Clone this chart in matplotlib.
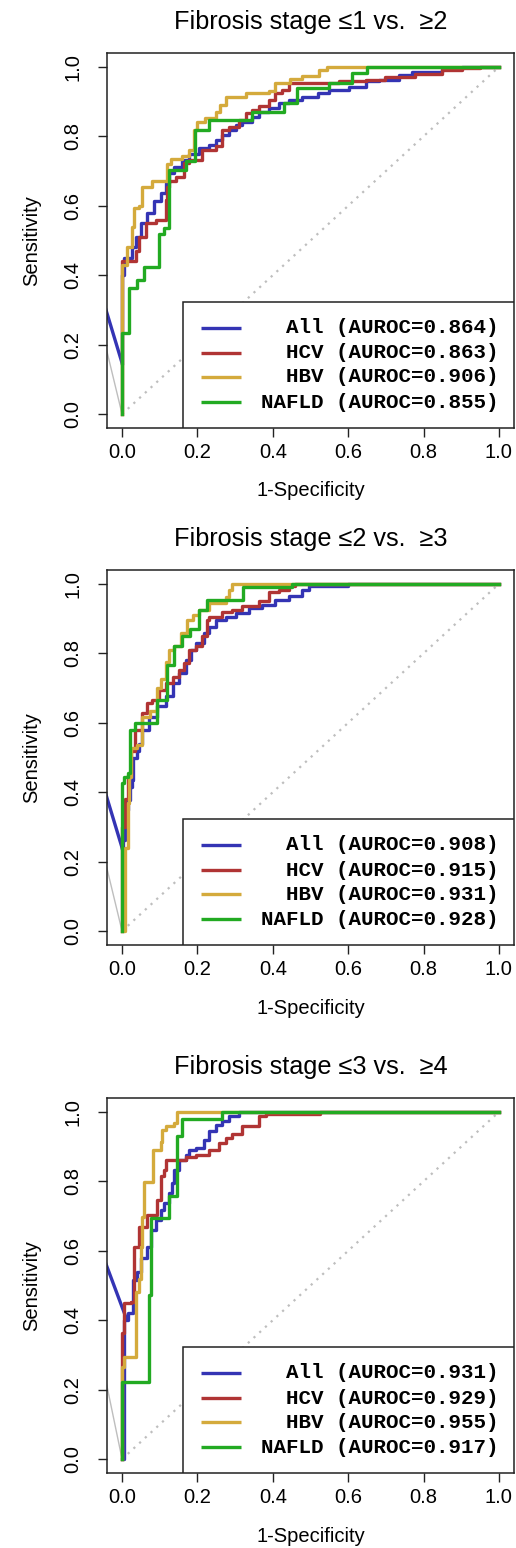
import numpy as np
import matplotlib
matplotlib.use("Agg")
import matplotlib.pyplot as plt
from matplotlib.patches import Rectangle

plt.rcParams["font.family"] = ["Liberation Sans", "DejaVu Sans"]

GROUPS = ["All", "HCV", "HBV", "NAFLD"]
COLORS = ["#3434b4", "#b03434", "#d4aa3c", "#22aa22"]
TITLES = [
    "Fibrosis stage \u22641 vs.  \u22652",
    "Fibrosis stage \u22642 vs.  \u22653",
    "Fibrosis stage \u22643 vs.  \u22654",
]
AUROC = [
    [0.864, 0.863, 0.906, 0.855],
    [0.908, 0.915, 0.931, 0.928],
    [0.931, 0.929, 0.955, 0.917],
]

# ROC curves as (1-specificity where a level starts, sensitivity level)
# ---- panel 1: stage <=1 vs >=2
P1_ALL_X = [0, 0, 0.005, 0.027, 0.036, 0.049, 0.067, 0.085, 0.103, 0.116, 0.125, 0.138, 0.16, 0.178,
            0.204, 0.231, 0.248, 0.266, 0.284, 0.301, 0.319, 0.346, 0.363, 0.39, 0.416, 0.443, 0.478,
            0.52, 0.549, 0.602, 0.646, 0.681, 0.734, 0.769, 0.848, 0.902, 1.0]
P1_ALL_Y = [0.147, 0.40, 0.45, 0.48, 0.51, 0.55, 0.579, 0.613, 0.636, 0.665, 0.694, 0.713, 0.732, 0.75,
            0.765, 0.775, 0.789, 0.804, 0.818, 0.833, 0.842, 0.857, 0.871, 0.881, 0.895, 0.905, 0.914,
            0.924, 0.933, 0.943, 0.958, 0.962, 0.977, 0.986, 0.993, 1.0, 1.0]
P1_HCV_X = [0, 0, 0.036, 0.045, 0.063, 0.089, 0.116, 0.12, 0.125, 0.142, 0.164, 0.178, 0.213, 0.248,
            0.266, 0.284, 0.31, 0.328, 0.346, 0.363, 0.39, 0.407, 0.425, 0.443, 0.575, 0.646, 0.699,
            0.778, 0.848, 0.902, 0.95, 1.0]
P1_HCV_Y = [0, 0.44, 0.47, 0.51, 0.55, 0.56, 0.617, 0.655, 0.67, 0.684, 0.722, 0.732, 0.761, 0.771,
            0.818, 0.828, 0.848, 0.866, 0.876, 0.886, 0.905, 0.924, 0.933, 0.953, 0.958, 0.962, 0.972,
            0.98, 0.99, 0.997, 1.0, 1.0]
P1_HBV_X = [0, 0, 0.014, 0.027, 0.032, 0.045, 0.054, 0.08, 0.118, 0.13, 0.16, 0.178, 0.19, 0.20, 0.22,
            0.25, 0.26, 0.275, 0.33, 0.39, 0.405, 0.445, 0.478, 0.522, 0.545, 1.0]
P1_HBV_Y = [0, 0.43, 0.48, 0.54, 0.593, 0.60, 0.655, 0.67, 0.72, 0.735, 0.742, 0.761, 0.818, 0.84, 0.852,
            0.871, 0.89, 0.912, 0.924, 0.93, 0.953, 0.965, 0.975, 0.99, 1.0, 1.0]
P1_NAFLD_X = [0, 0, 0.019, 0.04, 0.058, 0.098, 0.111, 0.125, 0.169, 0.194, 0.231, 0.346, 0.43, 0.465,
              0.549, 0.61, 0.65, 1.0]
P1_NAFLD_Y = [0, 0.233, 0.363, 0.386, 0.424, 0.52, 0.535, 0.703, 0.73, 0.818, 0.847, 0.871, 0.895, 0.938,
              0.953, 0.982, 1.0, 1.0]

# ---- panel 2: stage <=2 vs >=3
P2_ALL_X = [0, 0.003, 0.008, 0.016, 0.02, 0.026, 0.03, 0.04, 0.045, 0.054, 0.072, 0.094, 0.116, 0.134,
            0.151, 0.169, 0.182, 0.195, 0.217, 0.231, 0.248, 0.275, 0.301, 0.337, 0.372, 0.407, 0.443,
            0.478, 0.496, 0.6, 1.0]
P2_ALL_Y = [0.24, 0.262, 0.349, 0.378, 0.415, 0.435, 0.50, 0.52, 0.54, 0.58, 0.618, 0.647, 0.676, 0.714,
            0.743, 0.78, 0.81, 0.829, 0.858, 0.877, 0.896, 0.906, 0.915, 0.93, 0.94, 0.954, 0.964,
            0.983, 0.993, 1.0, 1.0]
P2_HCV_X = [0, 0, 0.008, 0.015, 0.025, 0.035, 0.054, 0.067, 0.08, 0.098, 0.116, 0.134, 0.151, 0.164,
            0.178, 0.195, 0.213, 0.226, 0.231, 0.266, 0.293, 0.319, 0.363, 0.39, 0.416, 0.443, 0.46, 1.0]
P2_HCV_Y = [0, 0.30, 0.38, 0.45, 0.52, 0.58, 0.627, 0.656, 0.666, 0.695, 0.714, 0.733, 0.752, 0.772,
            0.81, 0.82, 0.849, 0.897, 0.906, 0.92, 0.925, 0.935, 0.95, 0.978, 0.982, 0.993, 1.0, 1.0]
P2_HBV_X = [0, 0.008, 0.016, 0.019, 0.025, 0.04, 0.054, 0.075, 0.094, 0.103, 0.116, 0.125, 0.138, 0.156,
            0.173, 0.187, 0.204, 0.231, 0.275, 0.284, 0.293, 1.0]
P2_HBV_Y = [0, 0.24, 0.369, 0.444, 0.527, 0.536, 0.618, 0.633, 0.70, 0.726, 0.774, 0.81, 0.82, 0.858,
            0.896, 0.91, 0.925, 0.944, 0.963, 0.982, 1.0, 1.0]
P2_NAFLD_X = [0, 0, 0.005, 0.016, 0.022, 0.035, 0.094, 0.12, 0.138, 0.16, 0.18, 0.204, 0.226, 0.32, 0.45,
              1.0]
P2_NAFLD_Y = [0, 0.426, 0.444, 0.455, 0.58, 0.599, 0.666, 0.767, 0.82, 0.849, 0.87, 0.925, 0.954, 0.99,
              1.0, 1.0]

# ---- panel 3: stage <=3 vs >=4
P3_ALL_X = [0, 0.005, 0.015, 0.028, 0.04, 0.049, 0.067, 0.076, 0.089, 0.103, 0.111, 0.125, 0.132, 0.138,
            0.151, 0.169, 0.178, 0.195, 0.217, 0.231, 0.248, 0.266, 0.284, 0.31, 1.0]
P3_ALL_Y = [0, 0.40, 0.42, 0.516, 0.54, 0.579, 0.612, 0.66, 0.689, 0.718, 0.737, 0.766, 0.795, 0.833,
            0.862, 0.876, 0.89, 0.895, 0.92, 0.944, 0.963, 0.973, 0.988, 1.0, 1.0]
P3_HCV_X = [0, 0, 0.006, 0.023, 0.032, 0.045, 0.067, 0.094, 0.103, 0.111, 0.116, 0.169, 0.195, 0.231,
            0.257, 0.275, 0.293, 0.319, 0.363, 0.381, 0.525, 1.0]
P3_HCV_Y = [0, 0.363, 0.449, 0.453, 0.612, 0.669, 0.703, 0.746, 0.814, 0.833, 0.862, 0.871, 0.876, 0.89,
            0.91, 0.925, 0.935, 0.958, 0.988, 0.993, 1.0, 1.0]
P3_HBV_X = [0, 0, 0.005, 0.036, 0.045, 0.05, 0.054, 0.058, 0.081, 0.103, 0.107, 0.116, 0.138, 0.147, 1.0]
P3_HBV_Y = [0, 0.266, 0.295, 0.482, 0.52, 0.612, 0.698, 0.798, 0.89, 0.914, 0.948, 0.958, 0.967, 1.0, 1.0]
P3_NAFLD_X = [0, 0, 0.072, 0.076, 0.125, 0.147, 0.16, 0.266, 1.0]
P3_NAFLD_Y = [0, 0.223, 0.473, 0.694, 0.757, 0.93, 0.98, 1.0, 1.0]

PANEL_X = [
    [P1_ALL_X, P1_HCV_X, P1_HBV_X, P1_NAFLD_X],
    [P2_ALL_X, P2_HCV_X, P2_HBV_X, P2_NAFLD_X],
    [P3_ALL_X, P3_HCV_X, P3_HBV_X, P3_NAFLD_X],
]
PANEL_Y = [
    [P1_ALL_Y, P1_HCV_Y, P1_HBV_Y, P1_NAFLD_Y],
    [P2_ALL_Y, P2_HCV_Y, P2_HBV_Y, P2_NAFLD_Y],
    [P3_ALL_Y, P3_HCV_Y, P3_HBV_Y, P3_NAFLD_Y],
]

# straight segments entering from outside the box (clipped at the frame)
ALL_LEAD_X = [[-0.06, 0.0], [-0.06, 0.0], [-0.06, 0.011]]
ALL_LEAD_Y = [[0.362, 0.147], [0.455, 0.24], [0.612, 0.406]]
GRAY_LEAD_X = [[-0.06, 0.0], [-0.06, 0.0], [-0.06, 0.0]]
GRAY_LEAD_Y = [[0.27, 0.0], [0.27, 0.0], [0.315, 0.0]]

TICKS = [0.0, 0.2, 0.4, 0.6, 0.8, 1.0]

W, H = 516, 1548
fig = plt.figure(figsize=(W / 100, H / 100), dpi=100)

# pixel box of each panel (left, top, right, bottom)
BOXES = [(107, 53, 514, 428), (107, 570, 514, 945), (107, 1098, 514, 1473)]

for p in range(3):
    l, t, r, b = BOXES[p]
    ax = fig.add_axes([l / W, 1 - b / H, (r - l) / W, (b - t) / H])
    ax.set_xlim(-0.04, 1.04)
    ax.set_ylim(-0.04, 1.04)

    ax.plot([0, 1], [0, 1], color="#bebebe", lw=1.6, linestyle=(0, (1, 2.5)), zorder=1)
    ax.plot(GRAY_LEAD_X[p], GRAY_LEAD_Y[p], color="#bebebe", lw=1.0, zorder=1)
    ax.plot(ALL_LEAD_X[p], ALL_LEAD_Y[p], color=COLORS[0], lw=2.4, zorder=2)
    for k in range(4):
        ax.plot(PANEL_X[p][k], PANEL_Y[p][k], color=COLORS[k], lw=2.4,
                drawstyle="steps-post", zorder=2 + k)

    ax.set_xticks(TICKS)
    ax.set_yticks(TICKS)
    ax.set_xticklabels([f"{v:.1f}" for v in TICKS])
    ax.set_yticklabels([f"{v:.1f}" for v in TICKS], rotation=90, va="center")
    ax.tick_params(direction="out", length=6.5, width=1.0, labelsize=14.5, color="#222222")
    ax.tick_params(axis="x", pad=4.5)
    ax.tick_params(axis="y", pad=11.5)
    for s in ax.spines.values():
        s.set_linewidth(1.1)
        s.set_color("#222222")

    ax.text(0.5, 1.083, TITLES[p], transform=ax.transAxes, ha="center", va="center", fontsize=18.2)
    ax.text(0.5, -0.168, "1-Specificity", transform=ax.transAxes, ha="center", va="center", fontsize=14.5)
    ax.text(-0.184, 0.5, "Sensitivity", transform=ax.transAxes, ha="center", va="center",
            rotation=90, fontsize=14.5)

    # legend box in the lower right corner
    ax.add_patch(Rectangle((0.187, 0.0), 0.813, 0.336, transform=ax.transAxes,
                           facecolor="white", edgecolor="#222222", lw=1.1, zorder=10))
    rows = [0.267, 0.2, 0.136, 0.069]
    for k in range(4):
        ax.plot([0.231, 0.329], [rows[k], rows[k]], transform=ax.transAxes, color=COLORS[k],
                lw=2.4, zorder=11, solid_capstyle="butt")
        ax.text(0.961, rows[k], f"{GROUPS[k]:>5} (AUROC={AUROC[p][k]:.3f})", transform=ax.transAxes,
                ha="right", va="center", family="Liberation Mono", fontweight="bold",
                fontsize=15, zorder=11)

fig.savefig("out.png", dpi=100)
